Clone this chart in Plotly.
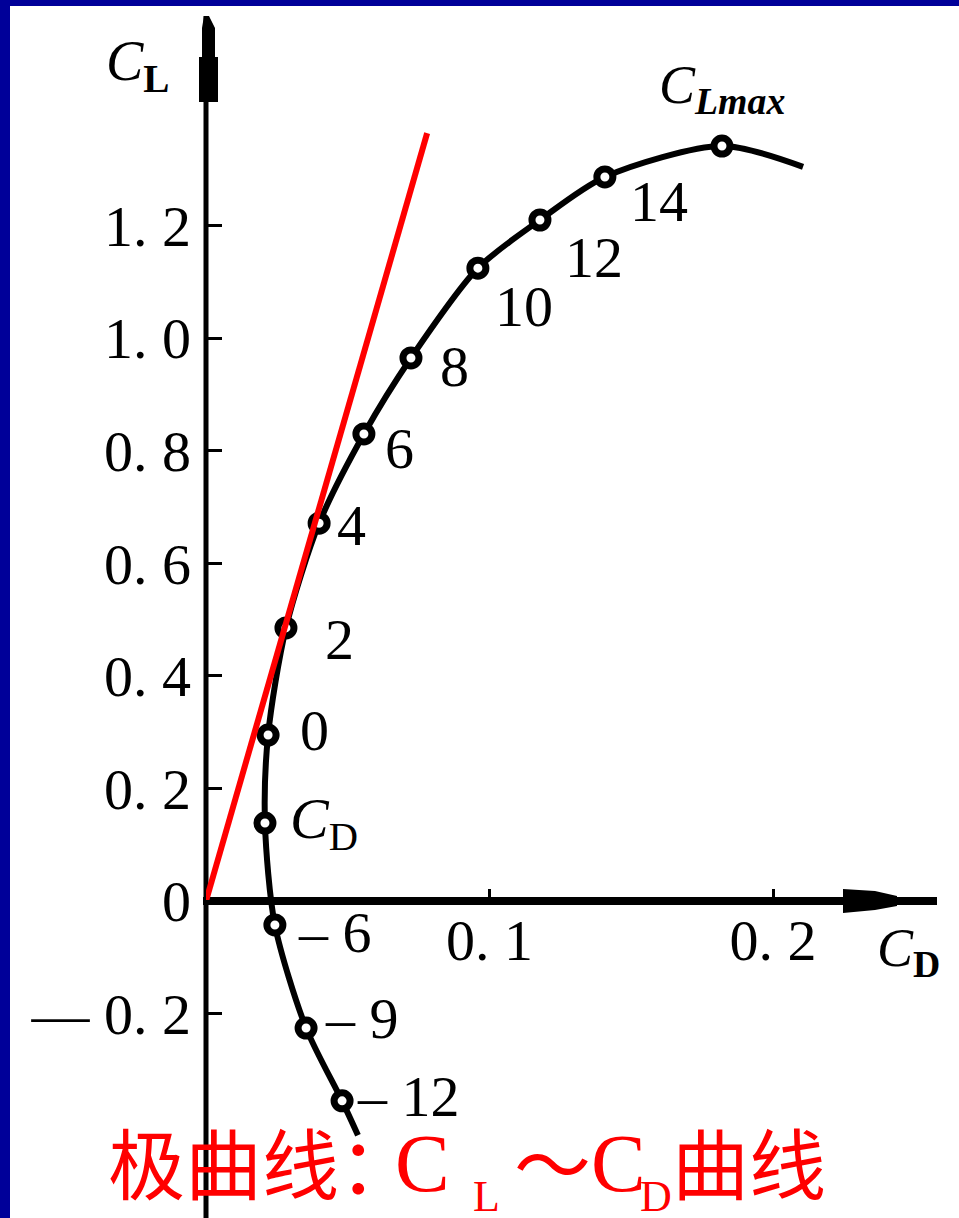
import plotly.graph_objects as go

# ---------------- data ----------------
cd_curve = [0.0536, 0.0480, 0.0353, 0.0243, 0.0208, 0.0219, 0.0282, 0.0399,
            0.0557, 0.0723, 0.0959, 0.1178, 0.1407, 0.1820, 0.2106]
cl_curve = [-0.416, -0.355, -0.2256, -0.0426, 0.1385, 0.2948, 0.485, 0.671,
            0.8295, 0.9645, 1.124, 1.2096, 1.286, 1.341, 1.304]
point_labels = [None, "– 12", "– 9", "– 6", "<i>C</i><sub>D</sub>", "0", "2", "4",
                "6", "8", "10", "12", "14", "<i>C</i><sub><b><i>Lmax</i></b></sub>", None]

tangent_cd = [0.0, 0.078]
tangent_cl = [0.0, 1.364]

y_tickvals = [1.2, 1.0, 0.8, 0.6, 0.4, 0.2, 0.0, -0.2]
y_ticktext = ["1. 2", "1. 0", "0. 8", "0. 6", "0. 4", "0. 2", "0", "— 0. 2"]
x_tickvals = [0.1, 0.2]
x_ticktext = ["0. 1", "0. 2"]

# caption: 极曲线：C_L～C_D曲线  (pieces: text, kind)
caption_pieces = [("极曲线", "cjk"), ("：", "cjk"), ("C", "latin"), ("L", "sub"),
                  ("～", "cjk"), ("C", "latin"), ("D", "sub"), ("曲线", "cjk")]

# ---------------- layout geometry ----------------
FW, FH = 959, 1218
ML, MR = 206, 19
PW = FW - ML - MR
SX, SY = 2835.0, 563.0      # px per unit
Y0PX = 901.0                # pixel row of CL = 0
x_range = [0.0, PW / SX]
y_range = [(Y0PX - FH) / SY, Y0PX / SY]


def pfx(px):
    return (px - ML) / PW


def pfy(py):
    return 1.0 - py / FH


SERIF = "Liberation Serif, Times New Roman, serif"
CJK = "Noto Sans CJK SC"

fig = go.Figure()

# polar curve
fig.add_trace(go.Scatter(
    x=cd_curve, y=cl_curve, mode="lines",
    line=dict(color="black", width=6, shape="spline", smoothing=0.8),
    hoverinfo="skip", showlegend=False))

mk = [i for i, t in enumerate(point_labels) if t is not None]
fig.add_trace(go.Scatter(
    x=[cd_curve[i] for i in mk], y=[cl_curve[i] for i in mk], mode="markers",
    marker=dict(symbol="circle", size=16, color="white",
                line=dict(color="black", width=7)),
    hoverinfo="skip", showlegend=False))

# tangent line from origin
fig.add_trace(go.Scatter(
    x=tangent_cd, y=tangent_cl, mode="lines",
    line=dict(color="#ff0000", width=6),
    hoverinfo="skip", showlegend=False))

# point labels
label_dx = [0, 13, 17, 21, 23, 30, 37, 16, 19, 27, 15, 23, 23, 0, 0]
label_dy = [0, 4, 10, -8, 1, 5, -12, -2, -15, -9, -38, -37, -25, 58, 0]
annotations = []
for i, t in enumerate(point_labels):
    if t is None:
        continue
    centered = "Lmax" in t
    annotations.append(dict(
        x=cd_curve[i], y=cl_curve[i], xref="x", yref="y", text=t,
        showarrow=False, xanchor="center" if centered else "left",
        yanchor="middle", xshift=label_dx[i], yshift=label_dy[i],
        font=dict(family=SERIF, size=58 if not centered else 54, color="black")))

# axis titles
annotations.append(dict(x=pfx(104), y=pfy(28), xref="paper", yref="paper",
                        text="<i>C</i><sub><b>L</b></sub>", showarrow=False,
                        xanchor="left", yanchor="top",
                        font=dict(family=SERIF, size=56, color="black")))
annotations.append(dict(x=pfx(875), y=pfy(916), xref="paper", yref="paper",
                        text="<i>C</i><sub><b>D</b></sub>", showarrow=False,
                        xanchor="left", yanchor="top",
                        font=dict(family=SERIF, size=54, color="black")))

# big red caption, piece by piece
piece_x = [106, 337, 393, 471, 512, 589, 638, 670]
piece_y = {"cjk": 1160, "latin": 1163, "sub": 1196}
piece_size = {"cjk": 77, "latin": 82, "sub": 44}
for (txt, kind), px in zip(caption_pieces, piece_x):
    annotations.append(dict(
        x=pfx(px), y=pfy(piece_y[kind]), xref="paper", yref="paper",
        text=txt, showarrow=False, xanchor="left", yanchor="middle",
        font=dict(family=CJK if kind == "cjk" else SERIF,
                  size=piece_size[kind], color="#ff0000")))

shapes = []
# blue frame (left and top)
shapes.append(dict(type="rect", xref="paper", yref="paper",
                   x0=pfx(0), x1=pfx(10), y0=pfy(FH), y1=pfy(0),
                   fillcolor="#000099", line=dict(width=0), layer="above"))
shapes.append(dict(type="rect", xref="paper", yref="paper",
                   x0=pfx(0), x1=pfx(FW), y0=pfy(6), y1=pfy(0),
                   fillcolor="#000099", line=dict(width=0), layer="above"))
# y axis line + arrow head
shapes.append(dict(type="line", xref="paper", yref="paper",
                   x0=pfx(206), x1=pfx(206), y0=pfy(16), y1=pfy(FH),
                   line=dict(color="black", width=5), layer="below"))
shapes.append(dict(type="path", xref="paper", yref="paper",
                   path=(f"M {pfx(204)},{pfy(16)} L {pfx(209)},{pfy(16)} "
                         f"L {pfx(215)},{pfy(28)} L {pfx(215)},{pfy(57)} "
                         f"L {pfx(218)},{pfy(57)} L {pfx(218)},{pfy(102)} "
                         f"L {pfx(199)},{pfy(102)} L {pfx(199)},{pfy(57)} "
                         f"L {pfx(202)},{pfy(57)} L {pfx(202)},{pfy(28)} Z"),
                   fillcolor="black", line=dict(width=0), layer="below"))
# x axis line + arrow head
shapes.append(dict(type="line", xref="paper", yref="paper",
                   x0=pfx(203), x1=pfx(937), y0=pfy(Y0PX), y1=pfy(Y0PX),
                   line=dict(color="black", width=8), layer="below"))
shapes.append(dict(type="path", xref="paper", yref="paper",
                   path=(f"M {pfx(843)},{pfy(889)} L {pfx(875)},{pfy(891)} "
                         f"L {pfx(897)},{pfy(896)} L {pfx(897)},{pfy(906)} "
                         f"L {pfx(875)},{pfy(910)} L {pfx(843)},{pfy(913)} Z"),
                   fillcolor="black", line=dict(width=0), layer="below"))

x_pos = (0.0 - y_range[0]) / (y_range[1] - y_range[0])

fig.update_layout(
    width=FW, height=FH,
    margin=dict(l=ML, r=MR, t=0, b=0, pad=0, autoexpand=False),
    paper_bgcolor="white", plot_bgcolor="white",
    showlegend=False,
    xaxis=dict(range=x_range, anchor="free", position=x_pos,
               showgrid=False, zeroline=False, showline=False,
               tickvals=x_tickvals, ticktext=x_ticktext,
               ticks="inside", ticklen=12, tickwidth=3, tickcolor="black",
               ticklabelstandoff=0,
               tickfont=dict(family=SERIF, size=58, color="black")),
    yaxis=dict(range=y_range, domain=[0, 1],
               showgrid=False, zeroline=False, showline=False,
               tickvals=y_tickvals, ticktext=y_ticktext,
               ticks="inside", ticklen=16, tickwidth=3, tickcolor="black",
               ticklabelstandoff=14,
               tickfont=dict(family=SERIF, size=58, color="black")),
    annotations=annotations,
    shapes=shapes,
)

fig.write_html("out.html")
